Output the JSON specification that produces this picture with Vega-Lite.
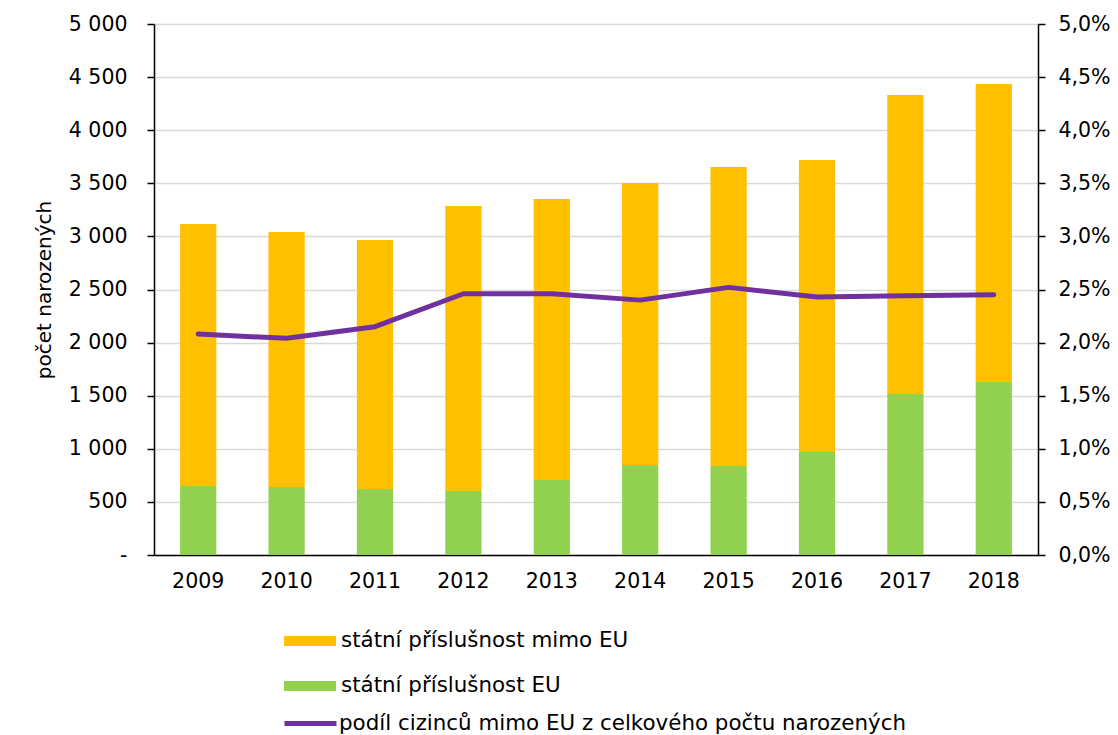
{
  "$schema": "https://vega.github.io/schema/vega-lite/v6.json",
  "autosize": "none",
  "width": 884,
  "height": 531,
  "padding": {"left": 154, "top": 24, "right": 80, "bottom": 180},
  "background": "white",
  "config": {
    "locale": {"number": {"decimal": ",", "thousands": " ", "grouping": [3], "currency": ["", " Kč"]}},
    "font": "DejaVu Sans",
    "view": {"stroke": null},
    "axis": {"labelFont": "DejaVu Sans", "labelFontSize": 20.5, "labelColor": "#000000", "titleFont": "DejaVu Sans", "titleFontWeight": "normal", "titleColor": "#000000", "domainColor": "#000000", "tickColor": "#000000", "domainWidth": 1.5, "tickWidth": 1.5},
    "legend": {"labelFont": "DejaVu Sans", "labelFontSize": 21.4, "labelColor": "#000000", "labelLimit": 900}
  },
  "datasets": {
    "bars": [
      {"rok": "2009", "skupina": "státní příslušnost EU", "pocet": 650},
      {"rok": "2009", "skupina": "státní příslušnost mimo EU", "pocet": 2467},
      {"rok": "2010", "skupina": "státní příslušnost EU", "pocet": 640},
      {"rok": "2010", "skupina": "státní příslušnost mimo EU", "pocet": 2401},
      {"rok": "2011", "skupina": "státní příslušnost EU", "pocet": 621},
      {"rok": "2011", "skupina": "státní příslušnost mimo EU", "pocet": 2345},
      {"rok": "2012", "skupina": "státní příslušnost EU", "pocet": 603},
      {"rok": "2012", "skupina": "státní příslušnost mimo EU", "pocet": 2683},
      {"rok": "2013", "skupina": "státní příslušnost EU", "pocet": 706},
      {"rok": "2013", "skupina": "státní příslušnost mimo EU", "pocet": 2646},
      {"rok": "2014", "skupina": "státní příslušnost EU", "pocet": 847},
      {"rok": "2014", "skupina": "státní příslušnost mimo EU", "pocet": 2656},
      {"rok": "2015", "skupina": "státní příslušnost EU", "pocet": 838},
      {"rok": "2015", "skupina": "státní příslušnost mimo EU", "pocet": 2815},
      {"rok": "2016", "skupina": "státní příslušnost EU", "pocet": 970},
      {"rok": "2016", "skupina": "státní příslušnost mimo EU", "pocet": 2749},
      {"rok": "2017", "skupina": "státní příslušnost EU", "pocet": 1516},
      {"rok": "2017", "skupina": "státní příslušnost mimo EU", "pocet": 2815},
      {"rok": "2018", "skupina": "státní příslušnost EU", "pocet": 1629},
      {"rok": "2018", "skupina": "státní příslušnost mimo EU", "pocet": 2806}
    ],
    "podil": [
      {"rok": "2009", "ukazatel": "podíl cizinců mimo EU z celkového počtu narozených", "podil": 0.0208},
      {"rok": "2010", "ukazatel": "podíl cizinců mimo EU z celkového počtu narozených", "podil": 0.0204},
      {"rok": "2011", "ukazatel": "podíl cizinců mimo EU z celkového počtu narozených", "podil": 0.0215},
      {"rok": "2012", "ukazatel": "podíl cizinců mimo EU z celkového počtu narozených", "podil": 0.0246},
      {"rok": "2013", "ukazatel": "podíl cizinců mimo EU z celkového počtu narozených", "podil": 0.0246},
      {"rok": "2014", "ukazatel": "podíl cizinců mimo EU z celkového počtu narozených", "podil": 0.0240},
      {"rok": "2015", "ukazatel": "podíl cizinců mimo EU z celkového počtu narozených", "podil": 0.0252},
      {"rok": "2016", "ukazatel": "podíl cizinců mimo EU z celkového počtu narozených", "podil": 0.0243},
      {"rok": "2017", "ukazatel": "podíl cizinců mimo EU z celkového počtu narozených", "podil": 0.0244},
      {"rok": "2018", "ukazatel": "podíl cizinců mimo EU z celkového počtu narozených", "podil": 0.0245}
    ]
  },
  "encoding": {
    "x": {
      "field": "rok", "type": "ordinal",
      "scale": {"paddingInner": 0.59, "paddingOuter": 0.295},
      "axis": {"title": null, "labelAngle": 0, "ticks": false, "labelPadding": 16, "domainColor": "#000000"}
    }
  },
  "layer": [
    {
      "data": {"name": "bars"},
      "mark": {"type": "bar"},
      "encoding": {
        "y": {
          "field": "pocet", "type": "quantitative", "stack": "zero",
          "scale": {"domain": [0, 5000]},
          "axis": {
            "title": "počet narozených", "titleFontSize": 20, "titlePadding": 14,
            "values": [0, 500, 1000, 1500, 2000, 2500, 3000, 3500, 4000, 4500, 5000],
            "format": ",d",
            "labelExpr": "datum.value == 0 ? '-' : datum.label",
            "tickSize": 7, "labelPadding": 20,
            "grid": true, "gridColor": "#D9D9D9", "gridWidth": 1.5
          }
        },
        "color": {
          "field": "skupina", "type": "nominal",
          "scale": {"domain": ["státní příslušnost mimo EU", "státní příslušnost EU"], "range": ["#FFC000", "#92D050"]},
          "legend": {
            "title": null, "orient": "none", "legendX": 130, "legendY": 591,
            "symbolType": "M-1,-0.19H1V0.19H-1Z", "symbolSize": 2704, "symbolStrokeWidth": 0,
            "labelOffset": 5, "rowPadding": 8
          }
        },
        "order": {"field": "skupina", "sort": "ascending"}
      }
    },
    {
      "data": {"name": "podil"},
      "mark": {"type": "line", "strokeWidth": 5, "strokeCap": "round", "strokeJoin": "round"},
      "encoding": {
        "y": {
          "field": "podil", "type": "quantitative",
          "scale": {"domain": [0, 0.05]},
          "axis": {
            "orient": "right", "title": null, "format": ".1%",
            "values": [0, 0.005, 0.01, 0.015, 0.02, 0.025, 0.03, 0.035, 0.04, 0.045, 0.05],
            "tickSize": 7, "labelPadding": 13, "grid": false
          }
        },
        "stroke": {
          "field": "ukazatel", "type": "nominal",
          "scale": {"range": ["#7030A0"]},
          "legend": {
            "title": null, "orient": "none", "legendX": 128, "legendY": 671,
            "symbolType": "stroke", "symbolSize": 2704, "symbolStrokeWidth": 5, "labelOffset": 0
          }
        }
      }
    }
  ],
  "resolve": {"scale": {"y": "independent"}}
}
